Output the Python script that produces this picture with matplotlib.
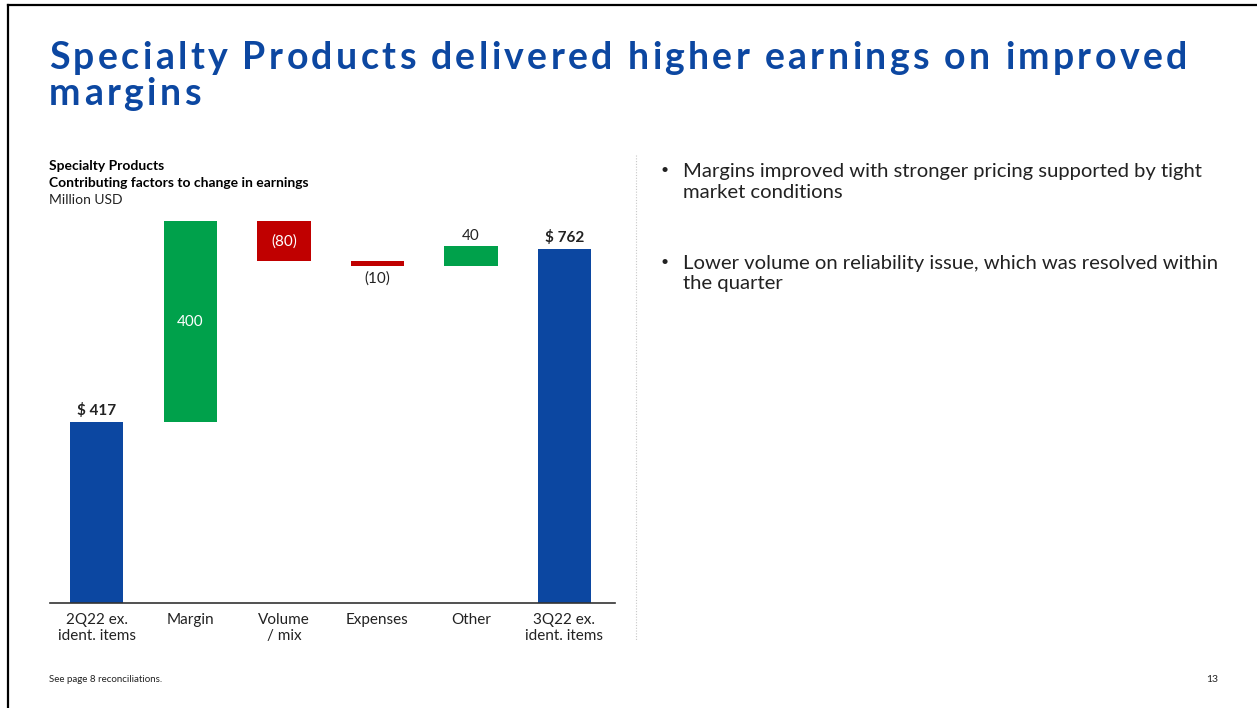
import matplotlib
matplotlib.use('Agg')
import matplotlib.pyplot as plt
import numpy as np
from matplotlib.lines import Line2D

# chart data
categories = ['2Q22 ex.\nident. items', 'Margin', 'Volume\n/ mix', 'Expenses', 'Other', '3Q22 ex.\nident. items']
changes = [417, 400, -80, -10, 40, 762]
kinds = ['total', 'up', 'down', 'down', 'up', 'total']
value_labels = ['$ 417', '400', '(80)', '(10)', '40', '$ 762']

title_lines = ['Specialty Products delivered higher earnings on improved', 'margins']
chart_header = ['Specialty Products', 'Contributing factors to change in earnings']
unit_label = 'Million USD'
bullets = ['Margins improved with stronger pricing supported by tight\nmarket conditions',
           'Lower volume on reliability issue, which was resolved within\nthe quarter']
footnote = 'See page 8 reconciliations.'
page_no = '13'

BLUE = '#0c47a1'
GREEN = '#00a14b'
RED = '#c00000'
TXT = '#222222'
W, H = 1257, 708

plt.rcParams['font.family'] = ['Lato', 'DejaVu Sans']

fig = plt.figure(figsize=(W / 100, H / 100), dpi=100)
fig.patch.set_facecolor('white')


def fx(x):
    return x / W


def fy(y):
    return 1 - y / H


# waterfall bottoms / heights
bottoms, heights, colors = [], [], []
level = 0
for v, k in zip(changes, kinds):
    if k == 'total':
        bottoms.append(0)
        heights.append(v)
        colors.append(BLUE)
        level = v
    else:
        bottoms.append(min(level, level + v))
        heights.append(abs(v))
        colors.append(GREEN if v > 0 else RED)
        level += v

ax = fig.add_axes([fx(50), fy(603), fx(615) - fx(50), fy(215) - fy(603)])
x = np.arange(len(categories))
ax.bar(x, heights, bottom=bottoms, width=0.57, color=colors, zorder=2)
ax.set_xlim(-0.5, 5.54)
ax.set_ylim(57, 829)
ax.set_xticks(x)
ax.set_xticklabels(categories, fontsize=11, color=TXT, linespacing=1.2)
ax.tick_params(axis='x', length=0, pad=7)
ax.set_yticks([])
for s in ['top', 'right', 'left']:
    ax.spines[s].set_visible(False)
ax.spines['bottom'].set_color('#333333')
ax.spines['bottom'].set_linewidth(1.2)

for i, (v, k, lab) in enumerate(zip(changes, kinds, value_labels)):
    top = bottoms[i] + heights[i]
    if k == 'total':
        ax.annotate(lab, (i, top), xytext=(0, 3), textcoords='offset points',
                    ha='center', va='bottom', fontsize=11, fontweight='bold', color=TXT)
    elif heights[i] > 60:
        ax.text(i, bottoms[i] + heights[i] / 2, lab, ha='center', va='center',
                fontsize=11, color='white')
    elif v > 0:
        ax.annotate(lab, (i, top), xytext=(0, 2), textcoords='offset points',
                    ha='center', va='bottom', fontsize=11, color=TXT)
    else:
        ax.annotate(lab, (i, bottoms[i]), xytext=(0, -4), textcoords='offset points',
                    ha='center', va='top', fontsize=11, color=TXT)

# title with letter spacing
renderer = fig.canvas.get_renderer()


def tracked_line(s, size):
    pieces = []
    total = 0
    for ch in s:
        if ch == ' ':
            pieces.append((None, size * 100 / 72 * 0.22))
            total += pieces[-1][1]
            continue
        t = fig.text(0, 0, ch, fontsize=size, fontweight='bold', color=BLUE,
                     va='baseline', ha='left')
        w = t.get_window_extent(renderer).width
        pieces.append((t, w))
        total += w
    return pieces, total


size = 27
p1, tot1 = tracked_line(title_lines[0], size)
track = (1187 - 49 - tot1) / (len(title_lines[0]) - 1)
p2, tot2 = tracked_line(title_lines[1], size)
for pieces, ybase in [(p1, 69), (p2, 105)]:
    xc = 49
    for t, w in pieces:
        if t is not None:
            t.set_position((fx(xc), fy(ybase)))
        xc += w + track

# chart header
fig.text(fx(49), fy(166), chart_header[0], fontsize=10, fontweight='bold', color='black', va='center')
fig.text(fx(49), fy(183), chart_header[1], fontsize=10, fontweight='bold', color='black', va='center')
fig.text(fx(49), fy(200), unit_label, fontsize=10, color=TXT, va='center')

# separator
fig.add_artist(Line2D([fx(636), fx(636)], [fy(155), fy(640)], color='#c8c8c8',
                      linewidth=0.8, linestyle=(0, (1, 1.5))))

# bullets
for yb, b in zip([170, 262], bullets):
    fig.text(fx(661), fy(yb), '\u2022', fontsize=10, color=TXT, va='center')
    fig.text(fx(683), fy(yb - 7), b, fontsize=14.6, color=TXT, va='top', linespacing=1.25)

# footer
fig.text(fx(49), fy(679), footnote, fontsize=7, color=TXT, va='center')
fig.text(fx(1218), fy(679), page_no, fontsize=7.5, color=TXT, va='center', ha='right')

# slide frame
fig.add_artist(Line2D([fx(8), fx(8)], [fy(4.5), 0], color='black', linewidth=1.6))
fig.add_artist(Line2D([fx(8), 1], [fy(4.5), fy(4.5)], color='black', linewidth=1.6))

fig.savefig('out.png', dpi=100, facecolor='white')
